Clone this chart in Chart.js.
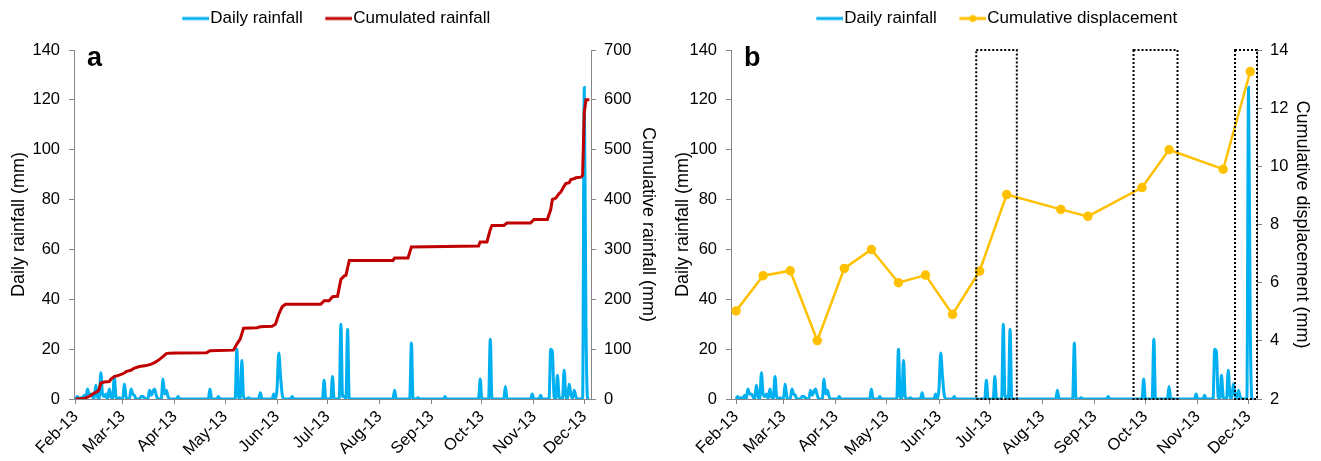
<!DOCTYPE html>
<html>
<head>
<meta charset="utf-8">
<script src="https://cdn.jsdelivr.net/npm/chart.js@4.4.1/dist/chart.umd.min.js"></script>
<style>
  body { margin: 0; background: #fff; }
  .panel { position: absolute; top: 0; height: 461px; }
  #panelA { left: 0; width: 660px; }
  #panelB { left: 660px; width: 661px; }
</style>
</head>
<body>
<div class="panel" id="panelA"><canvas id="chartA" width="660" height="461"></canvas></div>
<div class="panel" id="panelB"><canvas id="chartB" width="661" height="461"></canvas></div>
<script>
// days are counted from 1 Feb 2013 (day 0)
var monthDays = [0, 28, 59, 89, 120, 150, 181, 212, 242, 273, 303];
var monthLabels = ['Feb-13', 'Mar-13', 'Apr-13', 'May-13', 'Jun-13', 'Jul-13', 'Aug-13', 'Sep-13', 'Oct-13', 'Nov-13', 'Dec-13'];

// daily rainfall (mm), one value per day
var dailyRain = [
  0, 1, 0, 0.5, 0, 1.5, 0, 4, 2, 2,
  1, 0, 5.5, 1, 0, 10.5, 2, 1, 2, 0,
  4, 1, 0, 9, 1, 0, 0.5, 0, 0, 6,
  1, 0, 0, 4, 2, 1.5, 0, 0, 0, 1,
  1, 0.5, 0, 0, 3.5, 1.5, 3, 4, 1.5, 0,
  0, 0, 8, 2, 3.5, 1, 0, 0, 0, 0,
  0, 1, 0, 0, 0, 0, 0, 0, 0, 0,
  0, 0, 0, 0, 0, 0, 0, 0, 0, 0,
  4, 0, 0, 0, 0, 1, 0, 0, 0, 0,
  0, 0, 0, 0, 0, 0, 20, 1, 0, 15.5,
  1, 0, 0, 0.5, 0, 0, 0, 0, 0, 0,
  2.5, 0, 0, 0, 0, 0, 0, 0, 2, 0,
  4.5, 18.5, 9.5, 2, 0, 0, 0, 0, 0, 1,
  0, 0, 0, 0, 0, 0, 0, 0, 0, 0,
  0, 0, 0, 0, 0, 0, 0, 0, 7.5, 0,
  0, 0, 0, 9, 0, 0, 0, 0, 30, 1,
  1, 0, 28, 0, 0, 0, 0, 0, 0, 0,
  0, 0, 0, 0, 0, 0, 0, 0, 0, 0,
  0, 0, 0, 0, 0, 0, 0, 0, 0, 0,
  3.5, 0, 0, 0, 0, 0, 0, 0, 0, 0,
  22.5, 0, 0, 0, 0.5, 0, 0, 0, 0, 0,
  0, 0, 0, 0, 0, 0, 0, 0, 0, 0,
  1, 0, 0, 0, 0, 0, 0, 0, 0, 0,
  0, 0, 0, 0, 0, 0, 0, 0, 0, 0,
  0, 8, 0, 0, 0, 0, 0, 24, 0, 0,
  0, 0, 0, 0, 0, 0, 5, 0, 0, 0,
  0, 0, 0, 0, 0, 0, 0, 0, 0, 0,
  0, 0, 2, 0, 0, 0, 0, 1.5, 0, 0,
  0, 0, 0, 20, 19, 1, 0, 9.5, 1, 0,
  0, 11.5, 1.5, 0, 6, 2, 0, 3.5, 1, 0,
  0, 0, 0, 125, 30, 0, 0
];

// cumulated rainfall (mm), corners of the staircase
var cumDays = [0, 5, 7, 9, 11, 13, 14, 15, 17, 20, 21, 23, 26, 29, 30, 33, 35, 38, 42, 45,
  47, 49, 52, 54, 56, 60, 78, 80, 94, 96, 98, 100, 108, 110, 117, 119, 121, 123, 125, 146,
  148, 151, 153, 156, 158, 160, 161, 163, 189, 190, 198, 200, 240, 241, 245, 247, 248, 255, 257, 271,
  273, 281, 283, 284, 286, 288, 289, 291, 292, 294, 295, 297, 298, 301, 302, 303, 304, 306];
var cumRain = [0, 1, 4, 7, 12, 15, 20, 32, 34, 35, 40, 45, 48, 52, 55, 58, 62, 65, 67, 70,
  73, 77, 85, 91, 92, 92.5, 93, 97, 98, 110, 120, 142, 143, 145, 146, 150, 170, 185, 190, 190,
  197, 197, 205, 206, 240, 247, 248, 278, 278, 283, 283, 305, 307, 315, 315, 340, 348, 348, 353, 353,
  360, 360, 380, 400, 403, 412, 415, 427, 432, 434, 440, 442, 444, 445, 448, 575, 600, 600];

// cumulative displacement (mm), one reading every 16 days
var dispDays = [0, 16, 32, 48, 64, 80, 96, 112, 128, 144, 160, 192, 208, 240, 256, 288, 304];
var dispMm = [5.03, 6.24, 6.41, 4.01, 6.49, 7.14, 6.0, 6.26, 4.91, 6.4, 9.03, 8.52, 8.28, 9.27, 10.57, 9.9, 13.26];

// dotted windows on panel b (day ranges)
var boxStart = [142, 235, 295];
var boxEnd = [166, 261, 308];

var blue = '#00B0F0';
var red = '#C00000';
var orange = '#FFC000';
var axisGray = '#868686';
var family = '"Liberation Sans", Arial, sans-serif';

Chart.defaults.font.family = family;
Chart.defaults.color = '#000';

function toPoints(xs, ys) {
  var pts = [];
  for (var i = 0; i < xs.length; i++) pts.push({ x: xs[i], y: ys[i] });
  return pts;
}
var dailyPoints = dailyRain.map(function(v, i) { return { x: i, y: v }; });

// legend icon: short line (with optional marker), left part kept blank for spacing
function legendIcon(color, dot) {
  var c = document.createElement('canvas');
  c.width = 47;
  c.height = 10;
  var g = c.getContext('2d');
  g.strokeStyle = color;
  g.lineWidth = 3;
  g.beginPath();
  g.moveTo(20, 5);
  g.lineTo(47, 5);
  g.stroke();
  if (dot) {
    g.fillStyle = color;
    g.beginPath();
    g.arc(33.5, 5, 3.5, 0, Math.PI * 2);
    g.fill();
  }
  return c;
}

var fixedLegend = {
  id: 'fixedLegend',
  beforeInit: function(chart) {
    var legend = chart.legend;
    var fit = legend.fit;
    legend.fit = function() {
      fit.call(this);
      this.height = 50;
    };
  }
};

var panelLetter = {
  id: 'panelLetter',
  afterDraw: function(chart, args, opts) {
    var ctx = chart.ctx;
    var area = chart.chartArea;
    ctx.save();
    ctx.font = 'bold 27px ' + family;
    ctx.fillStyle = '#000';
    ctx.textBaseline = 'alphabetic';
    ctx.fillText(opts.text, area.left + 13, area.top + 16);
    ctx.restore();
  }
};

var dottedBoxes = {
  id: 'dottedBoxes',
  afterDatasetsDraw: function(chart) {
    var ctx = chart.ctx;
    var xs = chart.scales.x;
    var ys = chart.scales.y;
    ctx.save();
    ctx.setLineDash([2, 2]);
    ctx.lineWidth = 2;
    ctx.strokeStyle = '#000';
    for (var i = 0; i < boxStart.length; i++) {
      var l = xs.getPixelForValue(boxStart[i]);
      var r = xs.getPixelForValue(boxEnd[i]);
      var t = ys.getPixelForValue(ys.max);
      var b = ys.getPixelForValue(0);
      ctx.strokeRect(l, t, r - l, b - t);
    }
    ctx.restore();
  }
};

function yAxis(pos, min, max, step, width, title, titlePad) {
  return {
    type: 'linear',
    position: pos,
    min: min,
    max: max,
    afterFit: function(s) { s.width = width; },
    grid: { drawOnChartArea: false, drawTicks: true, tickLength: 5, color: axisGray },
    border: { color: axisGray, width: 1 },
    ticks: { stepSize: step, padding: pos === 'left' ? 9 : 8, color: '#000', font: { size: 16.5 } },
    title: { display: true, text: title, color: '#000', font: { size: 18 }, padding: { top: titlePad, bottom: 0 } }
  };
}

function xAxis(min, max) {
  return {
    type: 'linear',
    min: min,
    max: max,
    afterBuildTicks: function(s) {
      s.ticks = monthDays.map(function(d) { return { value: d }; });
    },
    afterFit: function(s) { s.height = 62; },
    grid: { drawOnChartArea: false, drawTicks: true, tickLength: 5, color: axisGray },
    border: { color: axisGray, width: 1 },
    ticks: {
      autoSkip: false,
      minRotation: 45,
      maxRotation: 45,
      padding: 3,
      color: '#000',
      font: { size: 16.5 },
      callback: function(v, i) { return monthLabels[i]; }
    }
  };
}

function legendOptions(icons) {
  return {
    display: true,
    position: 'top',
    labels: {
      usePointStyle: true,
      pointStyleWidth: 32,
      padding: 10,
      color: '#000',
      font: { size: 17 },
      generateLabels: function(chart) {
        return chart.data.datasets.map(function(ds, i) {
          return {
            text: ds.label,
            pointStyle: icons[i],
            datasetIndex: i,
            fontColor: '#000',
            lineWidth: 0,
            strokeStyle: 'rgba(0,0,0,0)',
            fillStyle: 'rgba(0,0,0,0)',
            hidden: false
          };
        });
      }
    }
  };
}

new Chart(document.getElementById('chartA').getContext('2d'), {
  type: 'line',
  data: {
    datasets: [{
      label: 'Daily rainfall',
      data: dailyPoints,
      yAxisID: 'y',
      borderColor: blue,
      borderWidth: 3,
      pointRadius: 0,
      tension: 0.4,
      cubicInterpolationMode: 'monotone',
      order: 2
    }, {
      label: 'Cumulated rainfall',
      data: toPoints(cumDays, cumRain),
      yAxisID: 'y2',
      borderColor: red,
      borderWidth: 3,
      pointRadius: 0,
      tension: 0,
      order: 1
    }]
  },
  options: {
    responsive: false,
    animation: false,
    layout: { padding: 0 },
    scales: {
      x: xAxis(-1, 307),
      y: yAxis('left', 0, 140, 20, 74, 'Daily rainfall (mm)', 8),
      y2: yAxis('right', 0, 700, 100, 69, 'Cumulative rainfall (mm)', 1)
    },
    plugins: {
      legend: legendOptions([legendIcon(blue, false), legendIcon(red, false)]),
      tooltip: { enabled: false },
      panelLetter: { text: 'a' }
    }
  },
  plugins: [fixedLegend, panelLetter]
});

new Chart(document.getElementById('chartB').getContext('2d'), {
  type: 'line',
  data: {
    datasets: [{
      label: 'Daily rainfall',
      data: dailyPoints,
      yAxisID: 'y',
      borderColor: blue,
      borderWidth: 3,
      pointRadius: 0,
      tension: 0.4,
      cubicInterpolationMode: 'monotone',
      order: 2
    }, {
      label: 'Cumulative displacement',
      data: toPoints(dispDays, dispMm),
      yAxisID: 'y2',
      borderColor: orange,
      borderWidth: 2.5,
      pointRadius: 3.5,
      pointBackgroundColor: orange,
      pointBorderColor: orange,
      tension: 0,
      order: 1
    }]
  },
  options: {
    responsive: false,
    animation: false,
    layout: { padding: 0 },
    scales: {
      x: xAxis(-3, 308),
      y: yAxis('left', 0, 140, 20, 71, 'Daily rainfall (mm)', 12),
      y2: yAxis('right', 2, 14, 2, 64, 'Cumulative displacement (mm)', 8)
    },
    plugins: {
      legend: legendOptions([legendIcon(blue, false), legendIcon(orange, true)]),
      tooltip: { enabled: false },
      panelLetter: { text: 'b' }
    }
  },
  plugins: [fixedLegend, panelLetter, dottedBoxes]
});
</script>
</body>
</html>
